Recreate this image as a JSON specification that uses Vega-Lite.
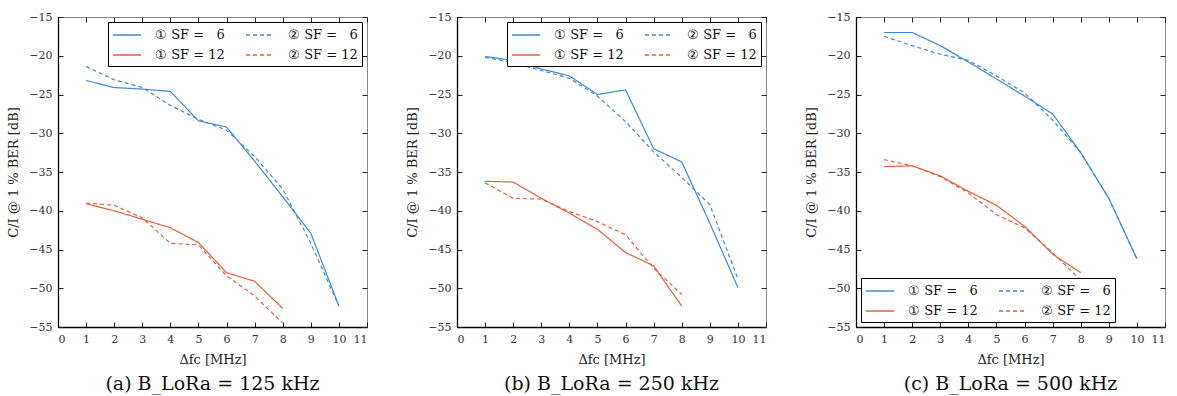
{
  "$schema": "https://vega.github.io/schema/vega-lite/v6.json",
  "padding": {"left": 7, "top": 10, "right": 2, "bottom": 5},
  "background": "white",
  "datasets": {
    "a": [
      {"s": "① SF = \u20076", "x": 1, "y": -23.2}, {"s": "① SF = \u20076", "x": 2, "y": -24.1}, {"s": "① SF = \u20076", "x": 3, "y": -24.3}, {"s": "① SF = \u20076", "x": 4, "y": -24.6}, {"s": "① SF = \u20076", "x": 5, "y": -28.4}, {"s": "① SF = \u20076", "x": 6, "y": -29.2}, {"s": "① SF = \u20076", "x": 7, "y": -33.6}, {"s": "① SF = \u20076", "x": 8, "y": -38.2}, {"s": "① SF = \u20076", "x": 9, "y": -42.9}, {"s": "① SF = \u20076", "x": 10, "y": -52.3},
      {"s": "② SF = \u20076", "x": 1, "y": -21.4}, {"s": "② SF = \u20076", "x": 2, "y": -23.1}, {"s": "② SF = \u20076", "x": 3, "y": -24.1}, {"s": "② SF = \u20076", "x": 4, "y": -26.4}, {"s": "② SF = \u20076", "x": 5, "y": -28.2}, {"s": "② SF = \u20076", "x": 6, "y": -29.6}, {"s": "② SF = \u20076", "x": 7, "y": -33.0}, {"s": "② SF = \u20076", "x": 8, "y": -37.2}, {"s": "② SF = \u20076", "x": 9, "y": -44.2}, {"s": "② SF = \u20076", "x": 10, "y": -52.3},
      {"s": "① SF = 12", "x": 1, "y": -39.1}, {"s": "① SF = 12", "x": 2, "y": -40.0}, {"s": "① SF = 12", "x": 3, "y": -41.1}, {"s": "① SF = 12", "x": 4, "y": -42.2}, {"s": "① SF = 12", "x": 5, "y": -44.1}, {"s": "① SF = 12", "x": 6, "y": -48.0}, {"s": "① SF = 12", "x": 7, "y": -49.1}, {"s": "① SF = 12", "x": 8, "y": -52.6},
      {"s": "② SF = 12", "x": 1, "y": -39.0}, {"s": "② SF = 12", "x": 2, "y": -39.3}, {"s": "② SF = 12", "x": 3, "y": -40.9}, {"s": "② SF = 12", "x": 4, "y": -44.2}, {"s": "② SF = 12", "x": 5, "y": -44.4}, {"s": "② SF = 12", "x": 6, "y": -48.4}, {"s": "② SF = 12", "x": 7, "y": -51.0}, {"s": "② SF = 12", "x": 8, "y": -54.5}
    ],
    "b": [
      {"s": "① SF = \u20076", "x": 1, "y": -20.1}, {"s": "① SF = \u20076", "x": 2, "y": -20.6}, {"s": "① SF = \u20076", "x": 3, "y": -21.7}, {"s": "① SF = \u20076", "x": 4, "y": -22.6}, {"s": "① SF = \u20076", "x": 5, "y": -25.0}, {"s": "① SF = \u20076", "x": 6, "y": -24.4}, {"s": "① SF = \u20076", "x": 7, "y": -32.0}, {"s": "① SF = \u20076", "x": 8, "y": -33.7}, {"s": "① SF = \u20076", "x": 9, "y": -41.6}, {"s": "① SF = \u20076", "x": 10, "y": -49.9},
      {"s": "② SF = \u20076", "x": 1, "y": -20.2}, {"s": "② SF = \u20076", "x": 2, "y": -20.9}, {"s": "② SF = \u20076", "x": 3, "y": -21.9}, {"s": "② SF = \u20076", "x": 4, "y": -22.9}, {"s": "② SF = \u20076", "x": 5, "y": -25.2}, {"s": "② SF = \u20076", "x": 6, "y": -28.5}, {"s": "② SF = \u20076", "x": 7, "y": -32.4}, {"s": "② SF = \u20076", "x": 8, "y": -35.7}, {"s": "② SF = \u20076", "x": 9, "y": -39.2}, {"s": "② SF = \u20076", "x": 10, "y": -48.8},
      {"s": "① SF = 12", "x": 1, "y": -36.2}, {"s": "① SF = 12", "x": 2, "y": -36.3}, {"s": "① SF = 12", "x": 3, "y": -38.4}, {"s": "① SF = 12", "x": 4, "y": -40.3}, {"s": "① SF = 12", "x": 5, "y": -42.4}, {"s": "① SF = 12", "x": 6, "y": -45.4}, {"s": "① SF = 12", "x": 7, "y": -47.1}, {"s": "① SF = 12", "x": 8, "y": -52.3},
      {"s": "② SF = 12", "x": 1, "y": -36.4}, {"s": "② SF = 12", "x": 2, "y": -38.4}, {"s": "② SF = 12", "x": 3, "y": -38.5}, {"s": "② SF = 12", "x": 4, "y": -40.1}, {"s": "② SF = 12", "x": 5, "y": -41.4}, {"s": "② SF = 12", "x": 6, "y": -43.1}, {"s": "② SF = 12", "x": 7, "y": -47.4}, {"s": "② SF = 12", "x": 8, "y": -50.8}
    ],
    "c": [
      {"s": "① SF = \u20076", "x": 1, "y": -17.0}, {"s": "① SF = \u20076", "x": 2, "y": -17.0}, {"s": "① SF = \u20076", "x": 3, "y": -18.7}, {"s": "① SF = \u20076", "x": 4, "y": -20.8}, {"s": "① SF = \u20076", "x": 5, "y": -23.0}, {"s": "① SF = \u20076", "x": 6, "y": -25.2}, {"s": "① SF = \u20076", "x": 7, "y": -27.5}, {"s": "① SF = \u20076", "x": 8, "y": -32.5}, {"s": "① SF = \u20076", "x": 9, "y": -38.4}, {"s": "① SF = \u20076", "x": 10, "y": -46.2},
      {"s": "② SF = \u20076", "x": 1, "y": -17.5}, {"s": "② SF = \u20076", "x": 2, "y": -18.7}, {"s": "② SF = \u20076", "x": 3, "y": -19.8}, {"s": "② SF = \u20076", "x": 4, "y": -20.6}, {"s": "② SF = \u20076", "x": 5, "y": -22.6}, {"s": "② SF = \u20076", "x": 6, "y": -24.8}, {"s": "② SF = \u20076", "x": 7, "y": -28.3}, {"s": "② SF = \u20076", "x": 8, "y": -32.5}, {"s": "② SF = \u20076", "x": 9, "y": -38.4}, {"s": "② SF = \u20076", "x": 10, "y": -46.2},
      {"s": "① SF = 12", "x": 1, "y": -34.3}, {"s": "① SF = 12", "x": 2, "y": -34.2}, {"s": "① SF = 12", "x": 3, "y": -35.5}, {"s": "① SF = 12", "x": 4, "y": -37.5}, {"s": "① SF = 12", "x": 5, "y": -39.3}, {"s": "① SF = 12", "x": 6, "y": -42.0}, {"s": "① SF = 12", "x": 7, "y": -45.6}, {"s": "① SF = 12", "x": 8, "y": -48.0},
      {"s": "② SF = 12", "x": 1, "y": -33.4}, {"s": "② SF = 12", "x": 2, "y": -34.2}, {"s": "② SF = 12", "x": 3, "y": -35.6}, {"s": "② SF = 12", "x": 4, "y": -37.7}, {"s": "② SF = 12", "x": 5, "y": -40.5}, {"s": "② SF = 12", "x": 6, "y": -42.2}, {"s": "② SF = 12", "x": 7, "y": -45.4}, {"s": "② SF = 12", "x": 8, "y": -49.0}
    ]
  },
  "spacing": 38,
  "hconcat": [
    {
      "data": {"name": "a"},
      "width": 309, "height": 310,
      "title": {"text": "(a) B_LoRa = 125 kHz", "orient": "bottom"},
      "layer": [
        {
          "mark": {"type": "line", "strokeWidth": 1.2},
          "encoding": {
            "x": {"field": "x", "type": "quantitative", "scale": {"domain": [0, 11], "nice": false}, "axis": {"orient": "bottom", "values": [0,1,2,3,4,5,6,7,8,9,10,11], "title": "Δfc [MHz]", "domain": false, "ticks": false, "tickSize": 0}},
            "y": {"field": "y", "type": "quantitative", "scale": {"domain": [-55, -15], "nice": false}, "axis": {"orient": "left", "values": [-55,-50,-45,-40,-35,-30,-25,-20,-15], "title": "C/I @ 1 % BER [dB]", "domain": false, "ticks": false, "tickSize": 0}},
            "color": {"field": "s", "type": "nominal", "scale": {"domain": ["① SF = \u20076", "① SF = 12", "② SF = \u20076", "② SF = 12"], "range": ["#3b8ad6", "#e4603a", "#3b8ad6", "#e4603a"]}, "legend": {"orient": "top-right", "columns": 2, "title": null, "offset": 5}},
            "strokeDash": {"field": "s", "type": "nominal", "scale": {"domain": ["① SF = \u20076", "① SF = 12", "② SF = \u20076", "② SF = 12"], "range": [[1, 0], [1, 0], [4, 3], [4, 3]]}, "legend": {"orient": "top-right", "columns": 2, "title": null, "offset": 5}}
          }
        },
        {
          "mark": {"type": "point", "opacity": 0},
          "encoding": {
            "x": {"field": "x", "type": "quantitative", "axis": {"orient": "top", "values": [0,1,2,3,4,5,6,7,8,9,10,11], "labels": false, "title": null, "domain": false, "tickSize": -5}},
            "y": {"field": "y", "type": "quantitative", "axis": {"orient": "right", "values": [-55,-50,-45,-40,-35,-30,-25,-20,-15], "labels": false, "title": null, "domain": false, "tickSize": -5}}
          }
        },
        {
          "mark": {"type": "point", "opacity": 0},
          "encoding": {
            "x": {"field": "x", "type": "quantitative", "axis": {"orient": "top", "offset": -310, "values": [0,1,2,3,4,5,6,7,8,9,10,11], "labels": false, "title": null, "domain": true, "tickSize": 5}},
            "y": {"field": "y", "type": "quantitative", "axis": {"orient": "right", "offset": -309, "values": [-55,-50,-45,-40,-35,-30,-25,-20,-15], "labels": false, "title": null, "domain": true, "tickSize": 5}}
          }
        }
      ],
      "resolve": {"axis": {"x": "independent", "y": "independent"}}
    },
    {
      "data": {"name": "b"},
      "width": 309, "height": 310,
      "title": {"text": "(b) B_LoRa = 250 kHz", "orient": "bottom"},
      "layer": [
        {
          "mark": {"type": "line", "strokeWidth": 1.2},
          "encoding": {
            "x": {"field": "x", "type": "quantitative", "scale": {"domain": [0, 11], "nice": false}, "axis": {"orient": "bottom", "values": [0,1,2,3,4,5,6,7,8,9,10,11], "title": "Δfc [MHz]", "domain": false, "ticks": false, "tickSize": 0}},
            "y": {"field": "y", "type": "quantitative", "scale": {"domain": [-55, -15], "nice": false}, "axis": {"orient": "left", "values": [-55,-50,-45,-40,-35,-30,-25,-20,-15], "title": "C/I @ 1 % BER [dB]", "domain": false, "ticks": false, "tickSize": 0}},
            "color": {"field": "s", "type": "nominal", "scale": {"domain": ["① SF = \u20076", "① SF = 12", "② SF = \u20076", "② SF = 12"], "range": ["#3b8ad6", "#e4603a", "#3b8ad6", "#e4603a"]}, "legend": {"orient": "top-right", "columns": 2, "title": null, "offset": 5}},
            "strokeDash": {"field": "s", "type": "nominal", "scale": {"domain": ["① SF = \u20076", "① SF = 12", "② SF = \u20076", "② SF = 12"], "range": [[1, 0], [1, 0], [4, 3], [4, 3]]}, "legend": {"orient": "top-right", "columns": 2, "title": null, "offset": 5}}
          }
        },
        {
          "mark": {"type": "point", "opacity": 0},
          "encoding": {
            "x": {"field": "x", "type": "quantitative", "axis": {"orient": "top", "values": [0,1,2,3,4,5,6,7,8,9,10,11], "labels": false, "title": null, "domain": false, "tickSize": -5}},
            "y": {"field": "y", "type": "quantitative", "axis": {"orient": "right", "values": [-55,-50,-45,-40,-35,-30,-25,-20,-15], "labels": false, "title": null, "domain": false, "tickSize": -5}}
          }
        },
        {
          "mark": {"type": "point", "opacity": 0},
          "encoding": {
            "x": {"field": "x", "type": "quantitative", "axis": {"orient": "top", "offset": -310, "values": [0,1,2,3,4,5,6,7,8,9,10,11], "labels": false, "title": null, "domain": true, "tickSize": 5}},
            "y": {"field": "y", "type": "quantitative", "axis": {"orient": "right", "offset": -309, "values": [-55,-50,-45,-40,-35,-30,-25,-20,-15], "labels": false, "title": null, "domain": true, "tickSize": 5}}
          }
        }
      ],
      "resolve": {"axis": {"x": "independent", "y": "independent"}}
    },
    {
      "data": {"name": "c"},
      "width": 309, "height": 310,
      "title": {"text": "(c) B_LoRa = 500 kHz", "orient": "bottom"},
      "layer": [
        {
          "mark": {"type": "line", "strokeWidth": 1.2},
          "encoding": {
            "x": {"field": "x", "type": "quantitative", "scale": {"domain": [0, 11], "nice": false}, "axis": {"orient": "bottom", "values": [0,1,2,3,4,5,6,7,8,9,10,11], "title": "Δfc [MHz]", "domain": false, "ticks": false, "tickSize": 0}},
            "y": {"field": "y", "type": "quantitative", "scale": {"domain": [-55, -15], "nice": false}, "axis": {"orient": "left", "values": [-55,-50,-45,-40,-35,-30,-25,-20,-15], "title": "C/I @ 1 % BER [dB]", "domain": false, "ticks": false, "tickSize": 0}},
            "color": {"field": "s", "type": "nominal", "scale": {"domain": ["① SF = \u20076", "① SF = 12", "② SF = \u20076", "② SF = 12"], "range": ["#3b8ad6", "#e4603a", "#3b8ad6", "#e4603a"]}, "legend": {"orient": "bottom-left", "columns": 2, "title": null, "offset": 5}},
            "strokeDash": {"field": "s", "type": "nominal", "scale": {"domain": ["① SF = \u20076", "① SF = 12", "② SF = \u20076", "② SF = 12"], "range": [[1, 0], [1, 0], [4, 3], [4, 3]]}, "legend": {"orient": "bottom-left", "columns": 2, "title": null, "offset": 5}}
          }
        },
        {
          "mark": {"type": "point", "opacity": 0},
          "encoding": {
            "x": {"field": "x", "type": "quantitative", "axis": {"orient": "top", "values": [0,1,2,3,4,5,6,7,8,9,10,11], "labels": false, "title": null, "domain": false, "tickSize": -5}},
            "y": {"field": "y", "type": "quantitative", "axis": {"orient": "right", "values": [-55,-50,-45,-40,-35,-30,-25,-20,-15], "labels": false, "title": null, "domain": false, "tickSize": -5}}
          }
        },
        {
          "mark": {"type": "point", "opacity": 0},
          "encoding": {
            "x": {"field": "x", "type": "quantitative", "axis": {"orient": "top", "offset": -310, "values": [0,1,2,3,4,5,6,7,8,9,10,11], "labels": false, "title": null, "domain": true, "tickSize": 5}},
            "y": {"field": "y", "type": "quantitative", "axis": {"orient": "right", "offset": -309, "values": [-55,-50,-45,-40,-35,-30,-25,-20,-15], "labels": false, "title": null, "domain": true, "tickSize": 5}}
          }
        }
      ],
      "resolve": {"axis": {"x": "independent", "y": "independent"}}
    }
  ],
  "resolve": {"scale": {"color": "independent", "strokeDash": "independent"}},
  "config": {
    "font": "DejaVu Serif",
    "view": {"stroke": "#888", "strokeWidth": 1},
    "axis": {
      "grid": false, "domainColor": "black", "domainWidth": 1.3, "tickColor": "#222", "tickWidth": 1,
      "labelFont": "DejaVu Serif", "labelFontSize": 11, "labelColor": "#333",
      "titleFont": "DejaVu Serif", "titleFontSize": 13, "titleFontWeight": "normal", "titleColor": "#222"
    },
    "axisY": {"titlePadding": 8, "labelPadding": 6},
    "axisX": {"titlePadding": 9, "labelPadding": 6},
    "legend": {
      "strokeColor": "black", "fillColor": "white", "padding": 4, "cornerRadius": 0,
      "symbolType": "M-1.75,0H1.75", "symbolSize": 256, "symbolStrokeWidth": 1.4, "symbolOffset": 6,
      "labelFont": "DejaVu Serif", "labelFontSize": 13, "labelColor": "#111", "labelOffset": 19,
      "columnPadding": 18, "rowPadding": 4, "labelLimit": 200
    },
    "title": {"font": "DejaVu Serif", "fontSize": 19, "fontWeight": "normal", "color": "#111", "offset": 9, "anchor": "middle"}
  }
}
